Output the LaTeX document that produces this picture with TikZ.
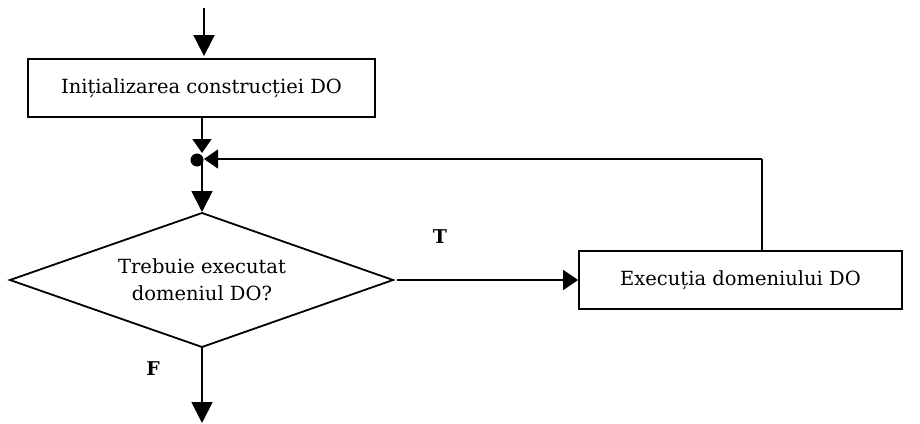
\documentclass[tikz,border=0pt]{standalone}
\usepackage{fontspec}
\setmainfont{DejaVu Serif}
\usetikzlibrary{arrows.meta,calc}
\begin{document}
\begin{tikzpicture}[x=1pt,y=-1pt,
  bighead/.style={-{Triangle[length=21pt,width=21pt]}},
  flow/.style={line width=1.8pt,bighead},
  joinhead/.style={-{Triangle[length=14pt,width=19pt]}},
  boxtext/.style={font=\fontsize{19.5}{27}\selectfont},
  procbox/.style={draw,line width=1.8pt,rectangle,inner sep=0pt,boxtext},
  branchlabel/.style={font=\fontsize{19}{22}\selectfont\bfseries}]
\useasboundingbox (0,0) rectangle (920,423);
% boxes
\node[procbox,minimum width=347pt,minimum height=58pt] (init) at (201.5,88) {Inițializarea construcției DO};
\node[procbox,minimum width=323pt,minimum height=58pt] (exec) at (740.5,280) {Execuția domeniului DO};
% decision diamond
\coordinate (dt) at (202,213);
\coordinate (dl) at (10,280);
\coordinate (dr) at (393,280);
\coordinate (db) at (202,347);
\draw[line width=1.8pt] (dt) -- (dr) -- (db) -- (dl) -- cycle;
\node[boxtext,align=center] (q) at (202,280) {Trebuie executat\\domeniul DO?};
% junction point with its dot
\coordinate (join) at (202,159);
\fill (197,160) circle (6.5pt);
\coordinate (start) at (204,8);
\coordinate (out) at (202,423);
\coordinate (up) at (762,159);
\coordinate (exectop) at (762,251);
% connectors
\draw[flow] (start) -- ($(init.north -| start)+(0,-2)$);
\draw[line width=1.8pt,joinhead] (init.south -| join) -- ($(join)+(0,-6)$);
\draw[flow] (join) -- ($(dt)+(0,-1)$);
\draw[line width=1.8pt,-{Triangle[length=15pt,width=20pt]}] ($(dr)+(4,0)$) -- (exec.west);
\draw[line width=1.3pt] (exectop) -- (up);
\draw[line width=1.3pt,joinhead] (up) -- ($(join)+(2,0)$);
\draw[flow] (db) -- (out);
% branch labels
\node[branchlabel] (t) at (440,237) {T};
\node[branchlabel] (f) at (153,369) {F};
\end{tikzpicture}
\end{document}
